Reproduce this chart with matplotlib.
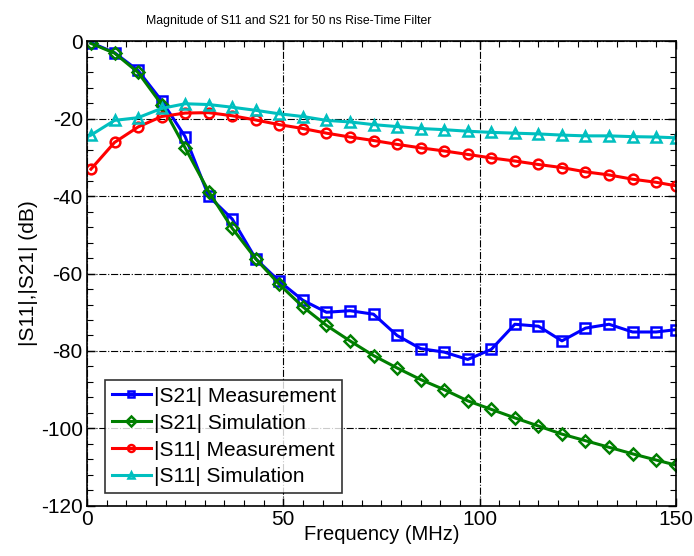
import numpy as np
import matplotlib.pyplot as plt
from matplotlib.ticker import MultipleLocator

plt.rcParams['font.family'] = ['Liberation Sans', 'DejaVu Sans']
plt.rcParams['axes.unicode_minus'] = False

freq = [1, 7, 13, 19, 25, 31, 37, 43, 49, 55, 61, 67, 73, 79, 85, 91, 97,
        103, 109, 115, 121, 127, 133, 139, 145, 150]

s21_meas = [-0.3, -2.9, -7.5, -15.3, -24.6, -40.0, -45.9, -56.2, -62.0, -66.9,
            -70.0, -69.6, -70.5, -76.0, -79.4, -80.3, -82.2, -79.6, -73.1, -73.6,
            -77.4, -74.1, -73.1, -75.1, -75.1, -74.5]
s21_sim = [-0.5, -3.0, -8.0, -16.3, -27.5, -38.8, -48.3, -56.2, -62.8, -68.6,
           -73.4, -77.4, -81.2, -84.4, -87.4, -90.0, -92.9, -95.1, -97.3, -99.4,
           -101.5, -103.2, -104.9, -106.6, -108.2, -109.5]
s11_meas = [-33.0, -26.1, -22.1, -19.4, -18.5, -18.4, -19.2, -20.3, -21.5, -22.5,
            -23.7, -24.7, -25.6, -26.6, -27.5, -28.3, -29.2, -30.1, -30.9, -31.8,
            -32.6, -33.7, -34.5, -35.6, -36.4, -37.3]
s11_sim = [-24.2, -20.4, -19.7, -17.3, -16.1, -16.3, -17.0, -17.8, -18.7, -19.4,
           -20.4, -20.8, -21.5, -22.0, -22.5, -22.8, -23.2, -23.5, -23.7, -23.9,
           -24.2, -24.4, -24.4, -24.6, -24.7, -24.9]

fig = plt.figure(figsize=(6.94, 5.56), dpi=100)
ax = fig.add_axes([0.1254, 0.0905, 0.8483, 0.8349])

style = dict(lw=2.2, ms=7, mew=1.8, mfc='none')
ax.plot(freq, s21_meas, 's-', color='#0000ff', label='|S21| Measurement', **style)
ax.plot(freq, s21_sim, 'D-', color='#007f00', label='|S21| Simulation', **dict(style, ms=6))
ax.plot(freq, s11_meas, 'o-', color='#ff0000', label='|S11| Measurement', **style)
ax.plot(freq, s11_sim, '^-', color='#00bfbf', label='|S11| Simulation', **style)

ax.set_xlim(0, 150)
ax.set_ylim(-120, 0)
ax.xaxis.set_major_locator(MultipleLocator(50))
ax.xaxis.set_minor_locator(MultipleLocator(5))
ax.yaxis.set_major_locator(MultipleLocator(20))
ax.yaxis.set_minor_locator(MultipleLocator(4))
ax.tick_params(which='both', direction='in', top=True, right=True, labelsize=15)
ax.tick_params(which='major', length=6, width=1, pad=3)
ax.tick_params(which='minor', length=4, width=0.8)
ax.grid(True, which='major', color='black', linestyle='-.', linewidth=0.8)
for sp in ax.spines.values():
    sp.set_linewidth(1.2)

ax.set_xlabel('Frequency (MHz)', fontsize=14.5, labelpad=-3)
ax.set_ylabel('|S11|,|S21| (dB)', fontsize=15, labelpad=2)
fig.text(289 / 694, 1 - 21 / 556, 'Magnitude of S11 and S21 for 50 ns Rise-Time Filter',
         fontsize=8.8, ha='center', va='center')

leg = ax.legend(loc='lower left', bbox_to_anchor=(0.031, 0.028), fontsize=15,
                frameon=True, fancybox=False, edgecolor='black', handlelength=1.9,
                handletextpad=0.15, borderpad=0.3, labelspacing=0.38, borderaxespad=0)
leg.get_frame().set_linewidth(1.2)
for h in leg.legend_handles:
    h.set_markersize(5)

fig.savefig('out.png', dpi=100)
